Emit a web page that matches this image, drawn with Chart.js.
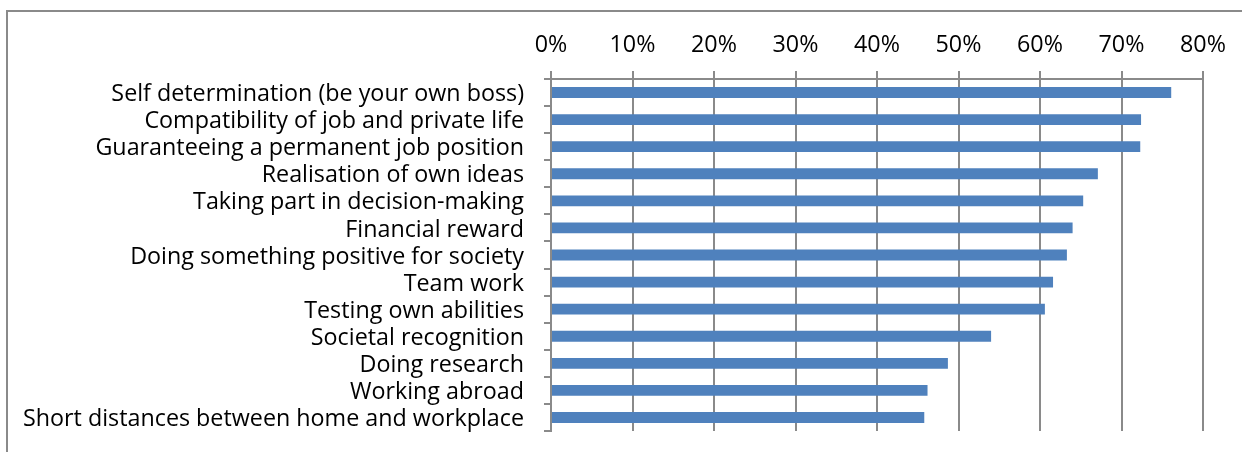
<!DOCTYPE html>
<html>
<head>
<meta charset="utf-8">
<script src="https://cdn.jsdelivr.net/npm/chart.js@4/dist/chart.umd.min.js"></script>
<style>
	html, body { margin: 0; padding: 0; background: #fff; overflow: hidden; }
	#wrap { position: relative; width: 1242px; height: 452px; }
	#frame { position: absolute; left: 6px; top: 10px; width: 1300px; height: 500px; border: 2px solid #8a8a8a; box-sizing: border-box; }
	#chart { position: absolute; left: 0; top: 0; }
</style>
</head>
<body>
<div id="wrap">
	<div id="frame"></div>
	<canvas id="chart" width="1242" height="452"></canvas>
</div>
<script>
const categories = [
	'Self determination (be your own boss)',
	'Compatibility of job and private life',
	'Guaranteeing a permanent job position',
	'Realisation of own ideas',
	'Taking part in decision-making',
	'Financial reward',
	'Doing something positive for society',
	'Team work',
	'Testing own abilities',
	'Societal recognition',
	'Doing research',
	'Working abroad',
	'Short distances between home and workplace'
];
const shares = [76.1, 72.4, 72.3, 67.1, 65.3, 64.0, 63.3, 61.6, 60.6, 54.0, 48.7, 46.2, 45.8];
const axisMax = 80;
const axisStep = 10;

const gridColor = '#8a8a8a';
const labelFont = { family: 'Open Sans', size: 23.3 };

const ctx = document.getElementById('chart').getContext('2d');
new Chart(ctx, {
	type: 'bar',
	data: {
		labels: categories,
		datasets: [{
			data: shares,
			backgroundColor: '#4f81bd',
			borderWidth: 0,
			barPercentage: 0.4,
			categoryPercentage: 1
		}]
	},
	options: {
		indexAxis: 'y',
		responsive: false,
		animation: false,
		layout: { padding: { left: 0, top: 0, right: 39, bottom: 21 } },
		plugins: {
			legend: { display: false },
			tooltip: { enabled: false }
		},
		scales: {
			x: {
				position: 'top',
				min: 0,
				max: axisMax,
				ticks: {
					stepSize: axisStep,
					color: '#000',
					font: labelFont,
					padding: 12,
					callback: v => v + '%'
				},
				grid: {
					color: gridColor,
					lineWidth: 2,
					tickLength: 8
				},
				border: { display: true, color: gridColor, width: 2 },
				afterFit: scale => {
					scale.height = 79;
					scale.paddingLeft = 0;
					scale.paddingRight = 0;
				}
			},
			y: {
				offset: true,
				ticks: {
					color: '#000',
					font: labelFont,
					padding: 20,
					labelOffset: 2,
					autoSkip: false
				},
				grid: {
					offset: true,
					drawOnChartArea: false,
					color: gridColor,
					lineWidth: 2,
					tickLength: 7
				},
				border: { display: true, color: gridColor, width: 2 },
				afterFit: scale => {
					scale.width = 551;
					scale.paddingTop = 0;
					scale.paddingBottom = 0;
				}
			}
		}
	}
});
</script>
</body>
</html>
